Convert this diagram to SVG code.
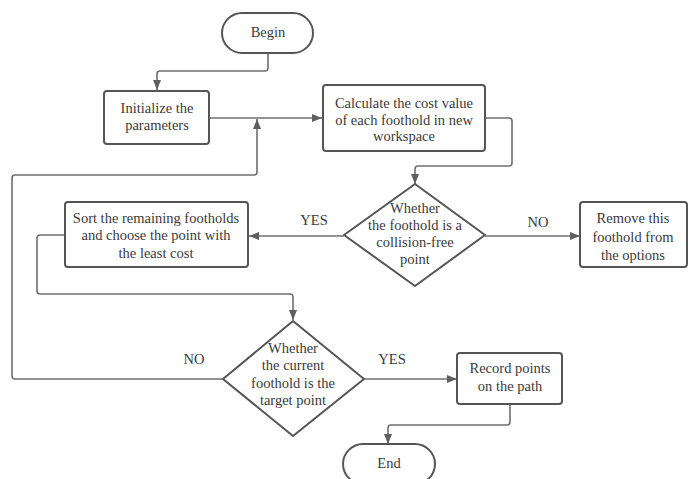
<svg xmlns="http://www.w3.org/2000/svg" width="689" height="479" viewBox="0 0 689 479">
<style>
.n{fill:#fff;stroke:#555;stroke-width:2}
.c{fill:none;stroke:#6f6f6f;stroke-width:1.6;stroke-linejoin:round}
.t{font-family:"Liberation Serif","Times New Roman",serif;font-size:14.5px;fill:#3a3a3a;text-anchor:middle}
</style>
<defs>
<marker id="a" viewBox="0 0 10 8" refX="10" refY="4" markerWidth="10" markerHeight="8" markerUnits="userSpaceOnUse" orient="auto">
<path d="M0,0 L10,4 L0,8 Z" fill="#5f5f5f"/>
</marker>
</defs>
<rect width="689" height="479" fill="#fff"/>
<g id="connectors">
<path class="c" d="M268,53 V68 Q268,71 265,71 H160 Q157,71 157,74 V90" marker-end="url(#a)"/>
<path class="c" d="M209,118 H322" marker-end="url(#a)"/>
<path class="c" d="M485,118 H509 Q512,118 512,121 V163 Q512,166 509,166 H418 Q415,166 415,169 V184" marker-end="url(#a)"/>
<path class="c" d="M344,236 H249" marker-end="url(#a)"/>
<path class="c" d="M485,236 H580" marker-end="url(#a)"/>
<path class="c" d="M65,235 H40 Q37,235 37,238 V291 Q37,294 40,294 H290 Q293,294 293,297 V320" marker-end="url(#a)"/>
<path class="c" d="M223,379 H15 Q12,379 12,376 V178 Q12,175 15,175 H254 Q257,175 257,172 V119" marker-end="url(#a)"/>
<path class="c" d="M364,379 H457" marker-end="url(#a)"/>
<path class="c" d="M510,404 V422 Q510,425 507,425 H391 Q388,425 388,428 V444" marker-end="url(#a)"/>
</g>
<g id="labels">
<text class="t" x="314" y="225">YES</text>
<text class="t" x="538" y="227">NO</text>
<text class="t" x="194" y="364">NO</text>
<text class="t" x="392" y="364">YES</text>
</g>
<g id="begin">
<rect class="n" x="222" y="13" width="91" height="40" rx="20"/>
<text class="t" x="268" y="37">Begin</text>
</g>
<g id="init">
<rect class="n" x="104" y="91" width="105" height="53" rx="3"/>
<text class="t" x="157" y="113">Initialize the</text>
<text class="t" x="157" y="130">parameters</text>
</g>
<g id="calc">
<rect class="n" x="323" y="85" width="162" height="66" rx="3"/>
<text class="t" x="404" y="108">Calculate the cost value</text>
<text class="t" x="404" y="125">of each foothold in new</text>
<text class="t" x="404" y="141">workspace</text>
</g>
<g id="d1">
<polygon class="n" points="415,184 485,235 415,286 344,235" stroke-linejoin="round"/>
<text class="t" x="415" y="213">Whether</text>
<text class="t" x="415" y="230">the foothold is a</text>
<text class="t" x="415" y="247">collision-free</text>
<text class="t" x="415" y="264">point</text>
</g>
<g id="remove">
<rect class="n" x="580" y="202" width="107" height="65" rx="3"/>
<text class="t" x="633" y="223">Remove this</text>
<text class="t" x="633" y="242">foothold from</text>
<text class="t" x="633" y="260">the options</text>
</g>
<g id="sort">
<rect class="n" x="65" y="202" width="183" height="65" rx="3"/>
<text class="t" x="156" y="223">Sort the remaining footholds</text>
<text class="t" x="156" y="240">and choose the point with</text>
<text class="t" x="156" y="258">the least cost</text>
</g>
<g id="d2">
<polygon class="n" points="293,321 364,379 293,436 223,379" stroke-linejoin="round"/>
<text class="t" x="293" y="353">Whether</text>
<text class="t" x="293" y="370">the current</text>
<text class="t" x="293" y="388">foothold is the</text>
<text class="t" x="293" y="405">target point</text>
</g>
<g id="record">
<rect class="n" x="457" y="353" width="105" height="51" rx="3"/>
<text class="t" x="510" y="373">Record points</text>
<text class="t" x="510" y="391">on the path</text>
</g>
<g id="end">
<rect class="n" x="343" y="444" width="92" height="40" rx="20"/>
<text class="t" x="389" y="468">End</text>
</g>
</svg>
